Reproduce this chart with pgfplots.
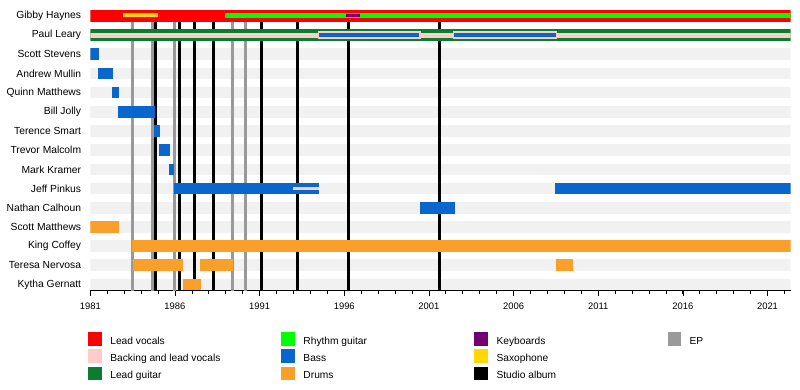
\documentclass[border=0pt]{standalone}
\usepackage{pgfplots}
\pgfplotsset{compat=1.18}
\usepackage{fontspec}
\setmainfont{Liberation Sans}
\definecolor{leadvoc}{HTML}{FF0000}
\definecolor{backvoc}{HTML}{FFCCCC}
\definecolor{leadgtr}{HTML}{0B7D31}
\definecolor{rhythm}{HTML}{00FF00}
\definecolor{bass}{HTML}{0866CC}
\definecolor{drums}{HTML}{FAA02A}
\definecolor{keys}{HTML}{720070}
\definecolor{sax}{HTML}{FFD800}
\definecolor{ep}{HTML}{999999}
\definecolor{band}{HTML}{F1F1F1}
\pgfplotsset{
  sw/.style={legend image code/.code={\fill[#1] (0bp,-3.6bp) rectangle (12.3bp,9.1bp); \path (21.7bp,0bp);}},
  seg/.style={forget plot, line width=#1},
}
\begin{document}
\begin{tikzpicture}
\useasboundingbox (0,0) rectangle (800bp,-390bp);
\begin{axis}[
  at={(90.3bp,-290.7bp)}, anchor=south west,
  scale only axis, width=700.4bp, height=284.45bp,
  xmin=1981, xmax=2022.37, ymin=-14.323, ymax=0.5,
  axis x line*=bottom, axis y line*=left,
  y axis line style={draw=none},
  x axis line style={line width=0.8bp, black},
  xtick={1981,1986,1991,1996,2001,2006,2011,2016,2021},
  xticklabels={1981,1986,1991,1996,2001,2006,2011,2016,2021},
  minor xtick={1982,...,2022},
  tick align=outside,
  major tick length=5bp, minor tick length=3bp,
  xtick style={line width=0.7bp, black},
  ytick style={draw=none},
  ytick={-14,...,0},
  yticklabels={Kytha Gernatt,Teresa Nervosa,King Coffey,Scott Matthews,Nathan Calhoun,Jeff Pinkus,Mark Kramer,Trevor Malcolm,Terence Smart,Bill Jolly,Quinn Matthews,Andrew Mullin,Scott Stevens,Paul Leary,Gibby Haynes},
  yticklabel style={font=\fontsize{10.3bp}{12bp}\selectfont, inner sep=0pt, xshift=-4bp},
  xticklabel style={font=\fontsize{9.4bp}{11bp}\selectfont, inner sep=0pt, yshift=-7.2bp},
  legend columns=4,
  legend cell align=left,
  legend style={at={(axis description cs:-0.00286,-0.1462)}, anchor=north west,
    draw=none, fill=none, inner sep=0pt, outer sep=0pt, column sep=0pt, row sep=3.1bp,
    font=\fontsize{10.2bp}{12bp}\selectfont,
    nodes={inner sep=0pt, text height=7.4bp, text depth=2.2bp}},
]
\addlegendimage{sw=leadvoc}\addlegendentry{\makebox[171bp][l]{Lead vocals}}
\addlegendimage{sw=rhythm}\addlegendentry{\makebox[171bp][l]{Rhythm guitar}}
\addlegendimage{sw=keys}\addlegendentry{\makebox[171bp][l]{Keyboards}}
\addlegendimage{sw=ep}\addlegendentry{EP}
\addlegendimage{sw=backvoc}\addlegendentry{\makebox[171bp][l]{Backing and lead vocals}}
\addlegendimage{sw=bass}\addlegendentry{\makebox[171bp][l]{Bass}}
\addlegendimage{sw=sax}\addlegendentry{\makebox[171bp][l]{Saxophone}}
\addlegendimage{empty legend}\addlegendentry{}
\addlegendimage{sw=leadgtr}\addlegendentry{\makebox[171bp][l]{Lead guitar}}
\addlegendimage{sw=drums}\addlegendentry{\makebox[171bp][l]{Drums}}
\addlegendimage{sw=black}\addlegendentry{\makebox[171bp][l]{Studio album}}

% background bands
\addplot[seg=11.7bp, band] coordinates {(1981,-2) (2022.37,-2)};
\addplot[seg=11.7bp, band] coordinates {(1981,-3) (2022.37,-3)};
\addplot[seg=11.7bp, band] coordinates {(1981,-4) (2022.37,-4)};
\addplot[seg=11.7bp, band] coordinates {(1981,-5) (2022.37,-5)};
\addplot[seg=11.7bp, band] coordinates {(1981,-6) (2022.37,-6)};
\addplot[seg=11.7bp, band] coordinates {(1981,-7) (2022.37,-7)};
\addplot[seg=11.7bp, band] coordinates {(1981,-8) (2022.37,-8)};
\addplot[seg=11.7bp, band] coordinates {(1981,-9) (2022.37,-9)};
\addplot[seg=11.7bp, band] coordinates {(1981,-10) (2022.37,-10)};
\addplot[seg=11.7bp, band] coordinates {(1981,-11) (2022.37,-11)};
\addplot[seg=11.7bp, band] coordinates {(1981,-12) (2022.37,-12)};
\addplot[seg=11.7bp, band] coordinates {(1981,-13) (2022.37,-13)};
\addplot[seg=11.7bp, band] coordinates {(1981,-14) (2022.37,-14)};

% EPs
\addplot[seg=2.7bp, ep] coordinates {(1983.48,0) (1983.48,-14.323)};
\addplot[seg=2.7bp, ep] coordinates {(1984.68,0) (1984.68,-14.323)};
\addplot[seg=2.7bp, ep] coordinates {(1985.96,0) (1985.96,-14.323)};
\addplot[seg=2.7bp, ep] coordinates {(1989.39,0) (1989.39,-14.323)};
\addplot[seg=2.7bp, ep] coordinates {(1990.16,0) (1990.16,-14.323)};
% Studio albums
\addplot[seg=3bp, black] coordinates {(1984.86,0) (1984.86,-14.323)};
\addplot[seg=3bp, black] coordinates {(1986.26,0) (1986.26,-14.323)};
\addplot[seg=3bp, black] coordinates {(1987.17,0) (1987.17,-14.323)};
\addplot[seg=3bp, black] coordinates {(1988.27,0) (1988.27,-14.323)};
\addplot[seg=3bp, black] coordinates {(1991.10,0) (1991.10,-14.323)};
\addplot[seg=3bp, black] coordinates {(1993.23,0) (1993.23,-14.323)};
\addplot[seg=3bp, black] coordinates {(1996.24,0) (1996.24,-14.323)};
\addplot[seg=3bp, black] coordinates {(2001.60,0) (2001.60,-14.323)};

% Gibby Haynes
\addplot[seg=11.7bp, leadvoc] coordinates {(1981,0) (2022.37,0)};
\addplot[seg=4bp, sax] coordinates {(1982.95,0.07) (1984.98,0.07)};
\addplot[seg=5bp, rhythm] coordinates {(1988.97,0) (2022.37,0)};
\addplot[seg=3.6bp, keys] coordinates {(1996.10,0.02) (1996.92,0.02)};
% Paul Leary
\addplot[seg=11.7bp, leadgtr] coordinates {(1981,-1) (2022.37,-1)};
\addplot[seg=5bp, backvoc] coordinates {(1981,-1) (2022.37,-1)};
\addplot[seg=7.6bp, backvoc] coordinates {(1994.43,-1) (2000.51,-1)};
\addplot[seg=7.6bp, backvoc] coordinates {(2002.44,-1) (2008.55,-1)};
\addplot[seg=4bp, bass] coordinates {(1994.50,-1) (2000.43,-1)};
\addplot[seg=4bp, bass] coordinates {(2002.50,-1) (2008.48,-1)};
% Bass players
\addplot[seg=11.7bp, bass] coordinates {(1981,-2) (1981.5,-2)};
\addplot[seg=11.7bp, bass] coordinates {(1981.45,-3) (1982.32,-3)};
\addplot[seg=11.7bp, bass] coordinates {(1982.28,-4) (1982.70,-4)};
\addplot[seg=11.7bp, bass] coordinates {(1982.64,-5) (1984.82,-5)};
\addplot[seg=11.7bp, bass] coordinates {(1984.74,-6) (1985.12,-6)};
\addplot[seg=11.7bp, bass] coordinates {(1985.04,-7) (1985.70,-7)};
\addplot[seg=11.7bp, bass] coordinates {(1985.63,-8) (1985.96,-8)};
\addplot[seg=11.7bp, bass] coordinates {(1985.92,-9) (1994.50,-9)};
\addplot[seg=3.4bp, backvoc] coordinates {(1993.00,-9) (1994.50,-9)};
\addplot[seg=11.7bp, bass] coordinates {(2008.45,-9) (2022.37,-9)};
\addplot[seg=11.7bp, bass] coordinates {(2000.47,-10) (2002.52,-10)};
% Drummers
\addplot[seg=11.7bp, drums] coordinates {(1981,-11) (1982.70,-11)};
\addplot[seg=11.7bp, drums] coordinates {(1983.45,-12) (2022.37,-12)};
\addplot[seg=11.7bp, drums] coordinates {(1983.50,-13) (1986.50,-13)};
\addplot[seg=11.7bp, drums] coordinates {(1987.50,-13) (1989.45,-13)};
\addplot[seg=11.7bp, drums] coordinates {(2008.50,-13) (2009.50,-13)};
\addplot[seg=11.7bp, drums] coordinates {(1986.48,-14) (1987.52,-14)};
\end{axis}
\end{tikzpicture}
\end{document}
